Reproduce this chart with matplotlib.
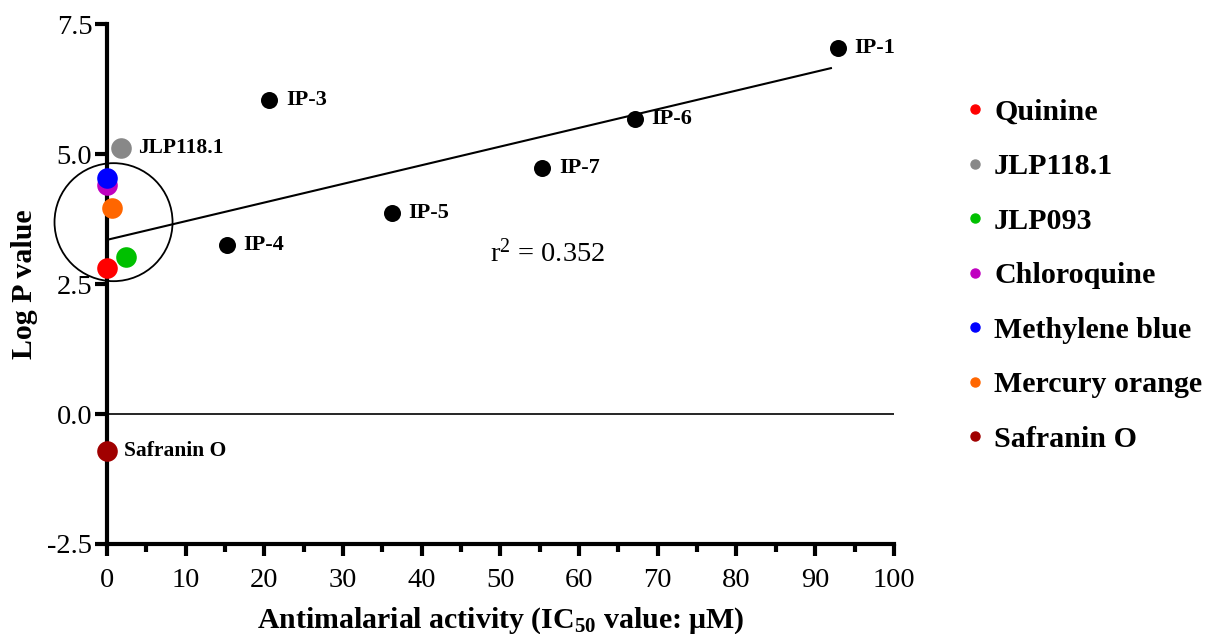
import matplotlib
matplotlib.use("Agg")
import matplotlib.pyplot as plt
from matplotlib.patches import Ellipse
from matplotlib.lines import Line2D

plt.rcParams["font.family"] = ["Liberation Serif", "DejaVu Serif"]
plt.rcParams["mathtext.fontset"] = "custom"
plt.rcParams["mathtext.rm"] = "Liberation Serif"
plt.rcParams["mathtext.it"] = "Liberation Serif:italic"
plt.rcParams["mathtext.bf"] = "Liberation Serif:bold"

# Test compounds (black points, labelled beside each dot)
ip_names = ["IP-1", "IP-3", "IP-4", "IP-5", "IP-6", "IP-7"]
ip_ic50 = [92.9, 20.6, 15.2, 36.2, 67.1, 55.3]
ip_logp = [7.04, 6.04, 3.25, 3.87, 5.67, 4.73]

# Reference compounds (coloured points, shown in legend)
ref_names = ["Quinine", "JLP118.1", "JLP093", "Chloroquine",
             "Methylene blue", "Mercury orange", "Safranin O"]
ref_ic50 = [0.0, 1.8, 2.4, 0.0, 0.0, 0.6, 0.0]
ref_logp = [2.81, 5.12, 3.02, 4.40, 4.54, 3.96, -0.71]
ref_colors = ["#ff0000", "#888888", "#00c000", "#c000c0",
              "#0000ff", "#ff6600", "#a00000"]
ref_labelled = ["JLP118.1", "Safranin O"]

# Linear fit shown on the plot
fit_intercept = 3.35
fit_slope = 0.0359
fit_x_range = [0.0, 92.0]
r_squared = 0.352

fig = plt.figure(figsize=(12.05, 6.34), dpi=100)
ax = fig.add_axes([0.0888, 0.142, 0.653, 0.820])

ax.set_xlim(0, 100)
ax.set_ylim(-2.5, 7.5)

# zero reference line
ax.axhline(0, color="black", lw=1.2, zorder=1)

# regression line
fx = fit_x_range
fy = [fit_intercept + fit_slope * v for v in fx]
ax.plot(fx, fy, color="black", lw=1.5, zorder=2)

# circle around the reference-drug cluster
ax.add_patch(Ellipse((0.83, 3.69), 15.0, 2.27, fill=False,
                     edgecolor="black", lw=1.3, zorder=2, clip_on=False))

# test compounds
ax.scatter(ip_ic50, ip_logp, s=150, color="black", zorder=4, clip_on=False,
           linewidths=0)
for name, x, y in zip(ip_names, ip_ic50, ip_logp):
    ax.annotate(name, (x, y), xytext=(12, 0), textcoords="offset points",
                va="center", ha="left", fontsize=16, fontweight="bold")

# reference compounds
for name, x, y, c in zip(ref_names, ref_ic50, ref_logp, ref_colors):
    ax.scatter([x], [y], s=220, color=c, zorder=5, clip_on=False,
               linewidths=0)
    if name in ref_labelled:
        ax.annotate(name, (x, y), xytext=(12, 0), textcoords="offset points",
                    va="center", ha="left", fontsize=15.5, fontweight="bold")

ax.text(56, 3.09, r"r$^2$ = %.3f" % r_squared, fontsize=20.5,
        ha="center", va="center")

# axes styling
for side in ["top", "right"]:
    ax.spines[side].set_visible(False)
ax.spines["left"].set_linewidth(3)
ax.spines["bottom"].set_linewidth(3)
ax.spines["left"].set_zorder(3)

ax.set_xticks(range(0, 101, 10))
ax.set_xticks(range(5, 100, 10), minor=True)
ax.set_yticks([-2.5, 0.0, 2.5, 5.0, 7.5])
ax.set_yticklabels(["-2.5", "0.0", "2.5", "5.0", "7.5"])
ax.tick_params(axis="both", which="major", direction="out", length=8.5,
               width=3, labelsize=20.5)
ax.tick_params(axis="x", which="major", pad=9)
ax.tick_params(axis="y", which="major", pad=2)
ax.tick_params(axis="x", which="minor", direction="out", length=6, width=3)

ax.set_xlabel(r"Antimalarial activity (IC$_{\mathbf{50}}$ value: $\mathbf{\mu}$M)",
              fontsize=21.5, fontweight="bold", labelpad=9)
ax.set_ylabel("Log P value", fontsize=21.5, fontweight="bold", labelpad=7)

handles = [Line2D([], [], marker="o", ls="none", color=c, markersize=6.5)
           for c in ref_colors]
leg = fig.legend(handles, ref_names, loc="upper left",
                 bbox_to_anchor=(0.800, 0.844), frameon=False,
                 prop={"size": 21.6, "weight": "bold"}, borderpad=0,
                 borderaxespad=0, handletextpad=0.3, handlelength=0.7,
                 labelspacing=0.915)

fig.savefig("out.png", dpi=100)
